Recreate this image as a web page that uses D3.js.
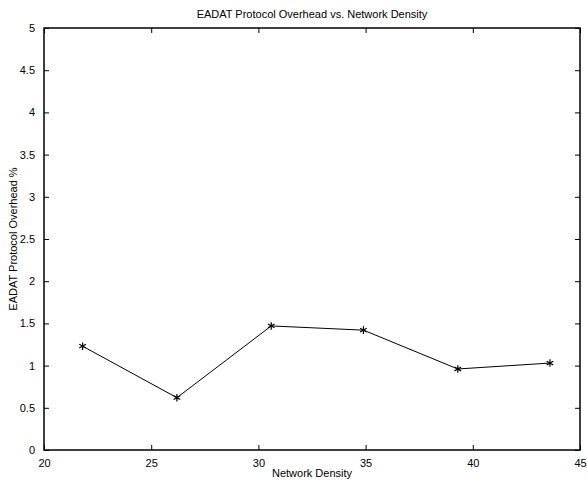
<!DOCTYPE html>
<html>
<head>
  <meta charset="utf-8">
  <title>EADAT Protocol Overhead</title>
  <script src="https://d3js.org/d3.v7.min.js"></script>
  <style>
    body { margin: 0; background: #fff; }
    text { font-family: "Liberation Sans", Arial, sans-serif; font-size: 11px; fill: #000; }
  </style>
</head>
<body>
  <script>
    var density = [21.8, 26.2, 30.6, 34.9, 39.3, 43.6];
    var overhead = [1.23, 0.62, 1.47, 1.42, 0.96, 1.03];
    var xTicks = [20, 25, 30, 35, 40, 45];
    var yTicks = [0, 0.5, 1, 1.5, 2, 2.5, 3, 3.5, 4, 4.5, 5];

    var width = 587, height = 480;
    var margin = { top: 28, right: 7, bottom: 30, left: 44 };
    var plotW = width - margin.left - margin.right;
    var plotH = height - margin.top - margin.bottom;

    var svg = d3.select('body').append('svg')
      .attr('width', width)
      .attr('height', height);

    var g = svg.append('g')
      .attr('transform', 'translate(' + margin.left + ',' + margin.top + ')');

    var x = d3.scaleLinear().domain([20, 45]).range([0, plotW]);
    var y = d3.scaleLinear().domain([0, 5]).range([plotH, 0]);

    var tick = 5;
    var fmt = d3.format('~g');

    // axes with inward ticks, mirrored on top/right
    function styleAxis(sel) {
      sel.select('.domain').remove();
      sel.selectAll('line').attr('stroke', '#000').attr('stroke-width', 1);
    }

    g.append('g')
      .attr('transform', 'translate(0,' + plotH + ')')
      .call(d3.axisBottom(x).tickValues(xTicks).tickFormat(fmt).tickSize(-tick).tickPadding(9))
      .call(styleAxis)
      .selectAll('text').style('font-size', '11px').style('font-family', null);

    g.append('g')
      .call(d3.axisTop(x).tickValues(xTicks).tickSize(-tick).tickFormat(''))
      .call(styleAxis);

    g.append('g')
      .call(d3.axisLeft(y).tickValues(yTicks).tickFormat(fmt).tickSize(-tick).tickPadding(9))
      .call(styleAxis)
      .selectAll('text').style('font-size', '11px').style('font-family', null);

    g.append('g')
      .attr('transform', 'translate(' + plotW + ',0)')
      .call(d3.axisRight(y).tickValues(yTicks).tickSize(-tick).tickFormat(''))
      .call(styleAxis);

    g.append('rect')
      .attr('width', plotW)
      .attr('height', plotH)
      .attr('fill', 'none')
      .attr('stroke', '#000')
      .attr('stroke-width', 1.5);

    var pts = density.map(function (d, i) { return [d, overhead[i]]; });

    g.append('path')
      .datum(pts)
      .attr('fill', 'none')
      .attr('stroke', '#000')
      .attr('stroke-width', 1)
      .attr('d', d3.line().x(function (d) { return x(d[0]); }).y(function (d) { return y(d[1]); }));

    g.selectAll('.marker')
      .data(pts)
      .enter().append('path')
      .attr('class', 'marker')
      .attr('transform', function (d) { return 'translate(' + x(d[0]) + ',' + y(d[1]) + ')'; })
      .attr('d', d3.symbol().type(d3.symbolAsterisk).size(40))
      .attr('fill', 'none')
      .attr('stroke', '#000')
      .attr('stroke-width', 1.2);

    svg.append('text')
      .attr('x', margin.left + plotW / 2)
      .attr('y', 18)
      .attr('text-anchor', 'middle')
      .text('EADAT Protocol Overhead vs. Network Density');

    svg.append('text')
      .attr('x', margin.left + plotW / 2)
      .attr('y', 477)
      .attr('text-anchor', 'middle')
      .text('Network Density');

    svg.append('text')
      .attr('transform', 'translate(17,' + (margin.top + plotH / 2) + ') rotate(-90)')
      .attr('text-anchor', 'middle')
      .text('EADAT Protocol Overhead %');
  </script>
</body>
</html>
